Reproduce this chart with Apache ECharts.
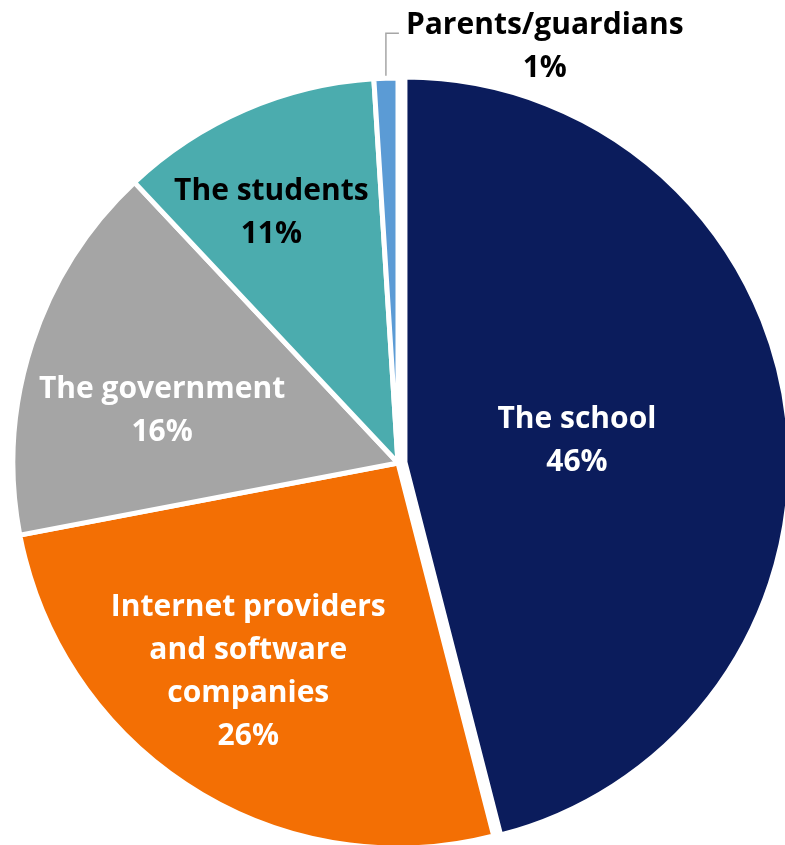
<!DOCTYPE html>
<html>
<head>
<meta charset="utf-8">
<script src="https://cdn.jsdelivr.net/npm/echarts@6/dist/echarts.min.js"></script>
<style>
html,body{margin:0;padding:0;background:#fff;}
#chart{width:785px;height:845px;}
</style>
</head>
<body>
<div id="chart"></div>
<script>
const categories = ['The school', 'Internet providers\nand software\ncompanies', 'The government', 'The students', 'Parents/guardians'];
const values = [46, 26, 16, 11, 1];
const colors = ['#0B1C5C', '#F36F04', '#A5A5A5', '#4BACAE', '#5B9BD5'];
const labelColors = ['#ffffff', '#ffffff', '#ffffff', '#000000', '#000000'];

// label nudges relative to the default inside position
const labelShift = [[-22, 3], [-45, 44], [-50, 8], [-49, -71], [0, 0]];

const data = categories.map((c, i) => {
  const item = {
    name: c,
    value: values[i],
    itemStyle: { color: colors[i] },
    label: { color: labelColors[i] }
  };
  if (i === 0) item.selected = true;
  if (i === 4) {
    item.label = { position: 'outside', color: '#000' };
    item.labelLine = { show: true, length: 20, length2: 10, lineStyle: { color: '#A6A6A6', width: 1.5 } };
  }
  return item;
});

const chart = echarts.init(document.getElementById('chart'), null, { renderer: 'canvas' });
chart.setOption({
  animation: false,
  backgroundColor: '#ffffff',
  series: [{
    type: 'pie',
    center: [398, 463],
    radius: 385,
    startAngle: 90,
    clockwise: true,
    selectedMode: 'single',
    selectedOffset: 7,
    itemStyle: { borderColor: '#ffffff', borderWidth: 5 },
    label: {
      show: true,
      position: 'inside',
      formatter: p => p.name + '\n' + p.value + '%',
      fontFamily: 'Open Sans',
      fontWeight: 'bold',
      fontSize: 30,
      lineHeight: 43,
      align: 'center'
    },
    labelLine: { show: false },
    emphasis: { disabled: true },
    labelLayout: function (params) {
      const i = params.dataIndex;
      if (i === 4 && params.labelLinePoints) {
        const p0 = params.labelLinePoints[0];
        const topY = p0[1] - 45;
        const w = params.labelRect.width;
        return {
          x: p0[0] + 20 + w / 2,
          y: topY + 14,
          align: 'center',
          verticalAlign: 'middle',
          labelLinePoints: [[p0[0], p0[1]], [p0[0], topY], [p0[0] + 13, topY]]
        };
      }
      return { dx: labelShift[i][0], dy: labelShift[i][1] };
    },
    data: data
  }]
});
</script>
</body>
</html>
